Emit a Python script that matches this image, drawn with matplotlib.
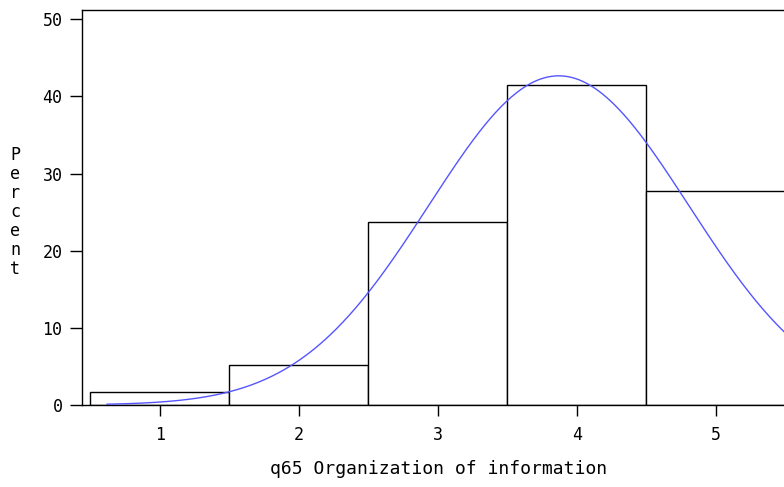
import numpy as np
import matplotlib
matplotlib.use("Agg")
import matplotlib.pyplot as plt

# histogram of q65 ratings (percent of respondents)
categories = [1, 2, 3, 4, 5]
percents = [1.64, 5.17, 23.7, 41.5, 27.8]

# fitted normal curve parameters
mu = 3.87
sigma = 0.935
curve_start = 0.62
curve_end = 5.6

yticks = [0, 10, 20, 30, 40, 50]

font = "DejaVu Sans Mono"

fig = plt.figure(figsize=(7.84, 4.87), dpi=100)
# axes run a little past the right edge of the canvas, as in the original
ax = fig.add_axes([82 / 784, 82 / 487, (796 - 82) / 784, (405 - 10) / 487])

ax.bar(categories, percents, width=1.0, facecolor="white", edgecolor="black",
       linewidth=1.0, zorder=2)

xs = np.linspace(curve_start, curve_end, 400)
ys = 100 * np.exp(-0.5 * ((xs - mu) / sigma) ** 2) / (sigma * np.sqrt(2 * np.pi))
ax.plot(xs, ys, color="#5555ff", linewidth=1.0, zorder=3)

ax.set_xlim(0.44, 5.577)
ax.set_ylim(0, 51.2)

ax.set_xticks(categories)
ax.set_yticks(yticks)
ax.set_xticklabels([str(c) for c in categories], fontfamily=font, fontsize=12)
ax.set_yticklabels([str(t) for t in yticks], fontfamily=font, fontsize=12)
ax.tick_params(axis="x", length=8, width=1, pad=7, color="black")
ax.tick_params(axis="y", length=9, width=1, pad=5, color="black")

ax.spines["right"].set_visible(False)
for s in ["left", "top", "bottom"]:
    ax.spines[s].set_linewidth(1.0)

ax.set_xlabel("q65 Organization of information", fontfamily=font, fontsize=13,
              labelpad=12)

fig.text(15 / 784, 1 - 212 / 487, "\n".join("Percent"), fontfamily=font,
         fontsize=12, ha="center", va="center", linespacing=1.08)

fig.savefig("out.png", dpi=100)
